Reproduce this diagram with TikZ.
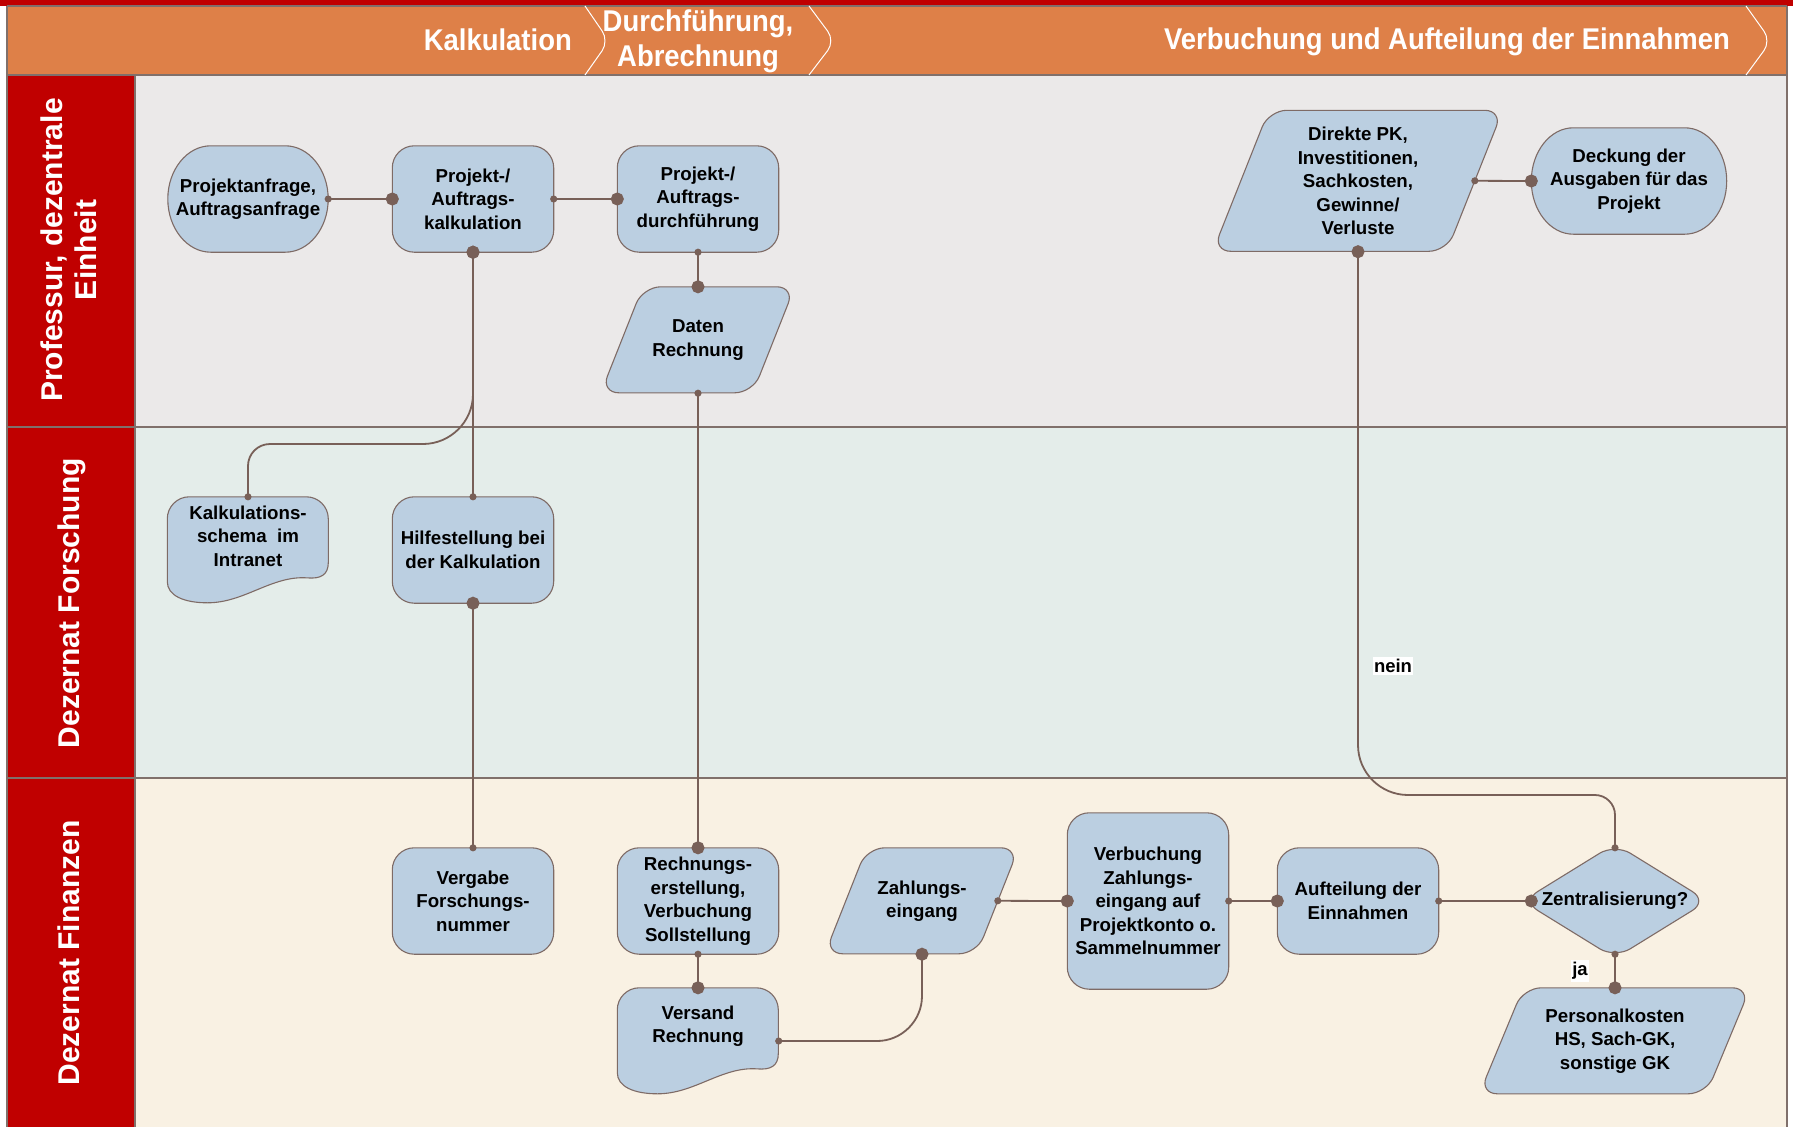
\documentclass[tikz,border=0pt]{standalone}
\usepackage{fontspec}
\setmainfont{Liberation Sans}
\newfontfamily\hdrfont[FakeStretch=0.915]{Liberation Sans}
\usetikzlibrary{calc,arrows.meta}
\pgfdeclarelayer{bg}
\pgfdeclarelayer{shp}
\pgfsetlayers{bg,shp,main}
\definecolor{hdrred}{HTML}{C00000}
\definecolor{hdrorange}{HTML}{DE8048}
\definecolor{laneA}{HTML}{EBE9E9}
\definecolor{laneB}{HTML}{E4EDEA}
\definecolor{laneC}{HTML}{F9F1E3}
\definecolor{nodefill}{HTML}{BBCFE1}
\definecolor{nodeline}{HTML}{7E6B66}
\definecolor{conn}{HTML}{786058}
\definecolor{lanegrey}{HTML}{80706B}

% rounded rectangle
\newcommand\RRnode[6]{%
  \node[txt, minimum width=#4, minimum height=#5] (#1) at (#2,#3) {#6};
  \begin{pgfonlayer}{shp}
    \draw[shp, rounded corners=22] (#1.north west) rectangle (#1.south east);
  \end{pgfonlayer}}
% stadium (half ellipses at the sides)
\newcommand\STnode[7]{%
  \node[txt, minimum width=#4, minimum height=#5] (#1) at (#2,#3) {#7};
  \begin{pgfonlayer}{shp}
    \draw[shp] ($(#1.north west)+(#6,0)$) -- ($(#1.north east)+(-#6,0)$)
      .. controls +({0.552*#6},0) and +(0,{-0.276*#5}) .. (#1.east)
      .. controls +(0,{0.276*#5}) and +({0.552*#6},0) .. ($(#1.south east)+(-#6,0)$)
      -- ($(#1.south west)+(#6,0)$)
      .. controls +({-0.552*#6},0) and +(0,{0.276*#5}) .. (#1.west)
      .. controls +(0,{-0.276*#5}) and +({-0.552*#6},0) .. ($(#1.north west)+(#6,0)$) -- cycle;
  \end{pgfonlayer}}
% parallelogram
\newcommand\PGnode[7]{%
  \node[txt, minimum width=#4, minimum height=#5] (#1) at (#2,#3) {#7};
  \begin{scope}[shift={(#1.north west)}]
    \coordinate (#1-e) at ({#4+5-#6/2},{#5/2});
    \begin{pgfonlayer}{shp}
      \draw[shp, rounded corners=18] ({#6-5},0) -- ({#4+5},0) -- ({#4+5-#6},#5) -- (-5,#5) -- cycle;
    \end{pgfonlayer}
  \end{scope}}
% document (wavy bottom), corners drawn explicitly
\newcommand\DCnode[7]{%
  \node[minimum width=#4, minimum height=#5, inner sep=0pt] (#1) at (#2,#3) {};
  \node[txt] (#1-t) at (#2,{#3-#6}) {#7};
  \begin{scope}[shift={(#1.north west)}]
    \begin{pgfonlayer}{shp}
      \draw[shp] (0,{0.8*#5}) -- (0,22) .. controls (0,9.9) and (9.9,0) .. (22,0)
        -- ({#4-22},0) .. controls ({#4-9.9},0) and (#4,9.9) .. (#4,22)
        -- (#4,{0.62*#5})
        .. controls (#4,{0.74*#5}) and ({0.95*#4},{0.775*#5}) .. ({0.87*#4},{0.765*#5})
        .. controls ({0.65*#4},{0.74*#5}) and ({0.48*#4},{1.0*#5}) .. ({0.25*#4},{1.0*#5})
        .. controls ({0.1*#4},{1.0*#5}) and (0,{0.93*#5}) .. (0,{0.8*#5}) -- cycle;
    \end{pgfonlayer}
  \end{scope}}
% decision
\newcommand\DMnode[6]{%
  \node[txt, minimum width=#4, minimum height=#5] (#1) at (#2,#3) {#6};
  \begin{pgfonlayer}{shp}
    \draw[shp, rounded corners=18] ($(#1.north)+(0,-4)$) -- ($(#1.east)+(9,0)$)
      -- ($(#1.south)+(0,4)$) -- ($(#1.west)+(-9,0)$) -- cycle;
  \end{pgfonlayer}}

\begin{document}
\begin{tikzpicture}[x=1pt,y=-1pt,
  txt/.style={inner sep=0pt, align=center, text=black, font=\fontsize{18.7}{23.5}\selectfont\bfseries},
  shp/.style={draw=nodeline, line width=1.1pt, fill=nodefill},
  flow/.style={draw=conn, line width=1.8pt, {Circle[length=7pt,width=7pt]}-{Circle[length=13pt,width=13pt]}, shorten <=-3.5pt, shorten >=-6.5pt},
  flowr/.style={draw=conn, line width=1.8pt, {Circle[length=13pt,width=13pt]}-{Circle[length=7pt,width=7pt]}, shorten <=-6.5pt, shorten >=-3.5pt},
  hdr/.style={inner sep=0pt, text=white, align=center, font=\hdrfont\fontsize{30}{35}\selectfont\bfseries},
  lanelbl/.style={inner sep=0pt, text=white, align=center, rotate=90, font=\fontsize{30}{33.5}\selectfont\bfseries},
  lbl/.style={fill=white, inner xsep=1pt, inner ysep=2pt, text=black, font=\fontsize{18.5}{22}\selectfont\bfseries},
  laneline/.style={draw=lanegrey, line width=1.5pt},
  chev/.style={draw=white, line width=1pt, rounded corners=12}
]
\useasboundingbox (0,0) rectangle (1793,1127);

\begin{pgfonlayer}{bg}
  \fill[hdrred] (0,0) rectangle (1793,6);
  \fill[hdrorange] (7,6) rectangle (1787,75);
  \fill[laneA] (135,75) rectangle (1787,427);
  \fill[laneB] (135,427) rectangle (1787,778);
  \fill[laneC] (135,778) rectangle (1787,1127);
  \fill[hdrred] (7,75) rectangle (135,1127);
  \draw[laneline] (7,6) -- (1787,6);
  \draw[laneline] (7,75) -- (1787,75);
  \draw[laneline] (7,427) -- (1787,427);
  \draw[laneline] (7,778) -- (1787,778);
  \draw[laneline] (135,75) -- (135,1127);
  \draw[laneline] (7,6) -- (7,1127);
  \draw[laneline] (1787,6) -- (1787,1127);
  \draw[chev] (585,6) -- (609,41) -- (585,75);
  \draw[chev] (809,6) -- (835,41) -- (809,75);
  \draw[chev] (1746,6) -- (1771,41) -- (1746,75);
\end{pgfonlayer}

% phase headers
\node[hdr, anchor=east] (ph1) at (572,40) {Kalkulation};
\node[hdr] (ph2) at (698,41.5) {Durchführung,\\Abrechnung};
\node[hdr, anchor=east] (ph3) at (1730,42) {Verbuchung und Aufteilung der Einnahmen};

% lane labels
\node[lanelbl] (lane1) at (69,250) {Professur, dezentrale\\Einheit};
\node[lanelbl] (lane2) at (72,603) {Dezernat Forschung};
\node[lanelbl] (lane3) at (69,953) {Dezernat Finanzen};

% nodes
\STnode{anfrage}{248}{199}{160}{106}{43}{Projektanfrage,\\Auftragsanfrage}
\RRnode{kalk}{473}{199}{161}{106}{Projekt-/\\Auftrags-\\kalkulation}
\RRnode{durch}{698}{199}{161}{106}{Projekt-/\\Auftrags-\\durchführung}
\PGnode{daten}{698}{340}{184}{106}{42}{Daten\\Rechnung}
\PGnode{direkte}{1358}{181}{280}{141}{56}{Direkte PK,\\Investitionen,\\Sachkosten,\\Gewinne/\\Verluste}
\STnode{deckung}{1629}{181}{195}{106}{42}{Deckung der\\Ausgaben für das\\Projekt}
\DCnode{schema}{248}{550}{161}{106}{14}{Kalkulations-\\schema\ \ im\\Intranet}
\RRnode{hilfe}{473}{550}{161}{106}{Hilfestellung bei\\der Kalkulation}
\RRnode{vergabe}{473}{901}{161}{106}{Vergabe\\Forschungs-\\nummer}
\RRnode{rechnung}{698}{901}{161}{106}{Rechnungs-\\erstellung,\\Verbuchung\\Sollstellung}
\DCnode{versand}{698}{1041}{161}{106}{15}{Versand\\Rechnung}
\PGnode{zahl}{922}{901}{184}{106}{42}{Zahlungs-\\eingang}
\RRnode{verb}{1148}{901}{161}{176}{Verbuchung\\Zahlungs-\\eingang auf\\Projektkonto o.\\Sammelnummer}
\RRnode{auft}{1358}{901}{161}{106}{Aufteilung der\\Einnahmen}
\DMnode{zent}{1615}{901}{167}{106}{Zentralisierung?}
\PGnode{pers}{1615}{1041}{261}{106}{44}{Personalkosten\\HS, Sach-GK,\\sonstige GK}

% connectors
\draw[flow] (anfrage.east) -- (kalk.west);
\draw[flow] (kalk.east) -- (durch.west);
\draw[flow] (durch.south) -- (daten.north);
\draw[flowr] (kalk.south) -- (hilfe.north);
\draw[flowr] (kalk.south) -- (473,394) .. controls (473,421.6) and (450.4,444) .. (423,444)
  -- (270,444) .. controls (257.8,444) and (248,453.8) .. (248,466) -- (schema.north);
\draw[flowr] (hilfe.south) -- (vergabe.north);
\draw[flow] (daten.south) -- (rechnung.north);
\draw[flow] (rechnung.south) -- (versand.north);
\draw[flow] (versand.east) -- (877,1041) .. controls (901.8,1041) and (922,1020.8) .. (922,996) -- (zahl.south);
\draw[flow] (zahl-e) -- (verb.west);
\draw[flow] (verb.east) -- (auft.west);
\draw[flow] (auft.east) -- (zent.west);
\draw[flow] (direkte-e) -- (deckung.west);
\draw[flowr] (direkte.south) -- (1358,745) .. controls (1358,772.6) and (1380.4,795) .. (1408,795)
  -- (1595,795) .. controls (1606,795) and (1615,804) .. (1615,815) -- (zent.north);
\draw[flow] (zent.south) -- (pers.north);

\node[lbl] (nein) at (1393,666) {nein};
\node[lbl] (ja) at (1580,971) {ja};
\end{tikzpicture}
\end{document}
